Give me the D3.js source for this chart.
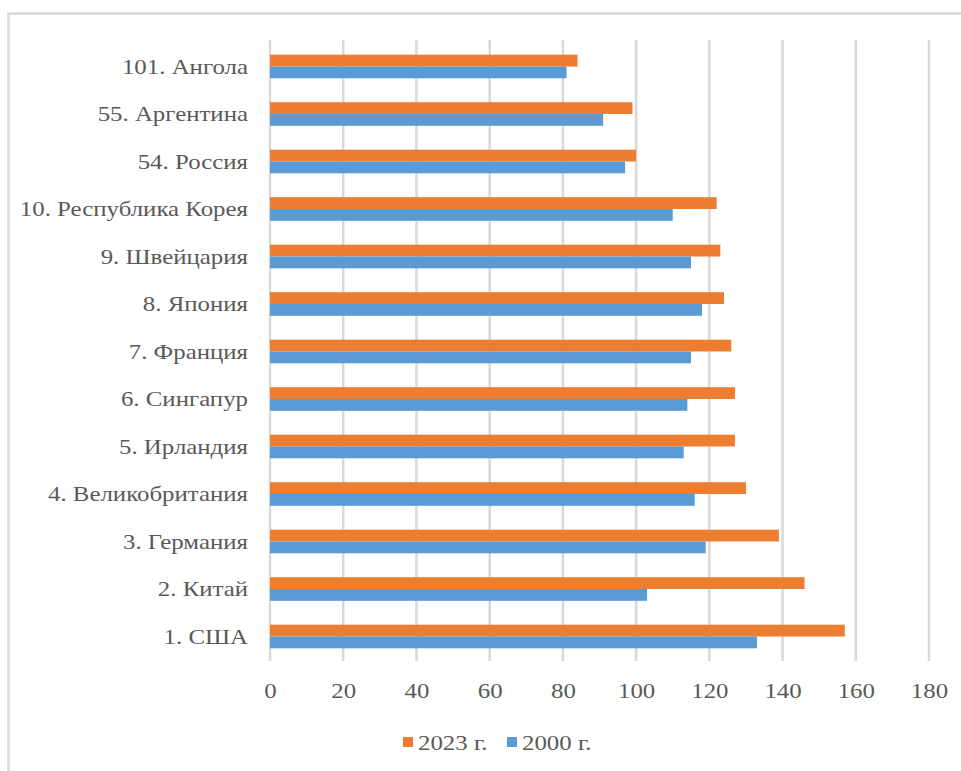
<!DOCTYPE html>
<html>
<head>
<meta charset="utf-8">
<script src="https://cdn.jsdelivr.net/npm/d3@7"></script>
<style>
html,body{margin:0;padding:0;background:#fff;}
svg{display:block;}
text{font-family:"Liberation Serif","Times New Roman",serif;fill:#595959;}
</style>
</head>
<body>
<svg id="chart" width="961" height="771"></svg>
<script>
const categories = ["101. Ангола","55. Аргентина","54. Россия","10. Республика Корея","9. Швейцария","8. Япония","7. Франция","6. Сингапур","5. Ирландия","4. Великобритания","3. Германия","2. Китай","1. США"];
const values2023 = [84, 99, 100, 122, 123, 124, 126, 127, 127, 130, 139, 146, 157];
const values2000 = [81, 91, 97, 110, 115, 118, 115, 114, 113, 116, 119, 103, 133];
const seriesNames = ["2023 г.", "2000 г."];
const seriesColors = ["#ed7d31", "#5b9bd5"];
const xTicks = [0,20,40,60,80,100,120,140,160,180];

(function(){
const svg = d3.select("#chart");
const W = 961, H = 771;
const pLeft = 270, pRight = 929, pTop = 42.75, pBottom = 660.25;
const FS = 22, SX = 1.13;

// outer border
svg.append("path")
  .attr("d", `M8.5,${H+5} L8.5,13.5 L${W+5},13.5`)
  .attr("fill","none").attr("stroke","#d9d9d9").attr("stroke-width",2.5);

const x = d3.scaleLinear().domain([0,180]).range([pLeft,pRight]);
const y = d3.scaleBand().domain(categories).range([pTop,pBottom]).paddingInner(0).paddingOuter(0);

// grid
svg.append("g").selectAll("line").data(xTicks).join("line")
  .attr("x1",d=>x(d)).attr("x2",d=>x(d))
  .attr("y1",40).attr("y2",661)
  .attr("stroke","#d9d9d9").attr("stroke-width",2.5);

// bars
const bw = 11.8;
const groups = svg.append("g").selectAll("g").data(categories).join("g")
  .attr("transform",d=>`translate(0,${y(d)+y.bandwidth()/2})`);
groups.append("rect")
  .attr("x",x(0)).attr("y",-bw)
  .attr("width",(d,i)=>x(values2023[i])-x(0)).attr("height",bw)
  .attr("fill",seriesColors[0]);
groups.append("rect")
  .attr("x",x(0)).attr("y",0)
  .attr("width",(d,i)=>x(values2000[i])-x(0)).attr("height",bw)
  .attr("fill",seriesColors[1]);

// x axis
const xAxis = d3.axisBottom(x).tickValues(xTicks).tickSize(0).tickPadding(0);
const xg = svg.append("g").attr("transform",`translate(0,690)`).call(xAxis);
xg.select(".domain").remove();
xg.selectAll("text").attr("font-size",FS+"px").attr("dy","0.35em").attr("y",0)
  .attr("transform",`scale(${SX},1)`)
  .style("font-family","'Liberation Serif',serif").attr("fill","#595959");

// y axis
const yAxis = d3.axisLeft(y).tickSize(0).tickPadding(22);
const yg = svg.append("g").attr("transform",`translate(${pLeft},0)`).call(yAxis);
yg.select(".domain").remove();
yg.selectAll("text").attr("font-size",FS+"px")
  .attr("x",-22/SX).attr("transform",`scale(${SX},1)`)
  .style("font-family","'Liberation Serif',serif").attr("fill","#595959");

// legend
const legend = svg.append("g");
const legItems = [{n:seriesNames[0],c:seriesColors[0],x:403},{n:seriesNames[1],c:seriesColors[1],x:507}];
legItems.forEach(it=>{
  legend.append("rect").attr("x",it.x).attr("y",737).attr("width",10).attr("height",10).attr("fill",it.c);
  legend.append("text").attr("x",(it.x+15)/SX).attr("y",742).attr("dy","0.35em")
    .attr("transform",`scale(${SX},1)`)
    .attr("font-size",FS+"px").text(it.n);
});
})();
</script>
</body>
</html>
